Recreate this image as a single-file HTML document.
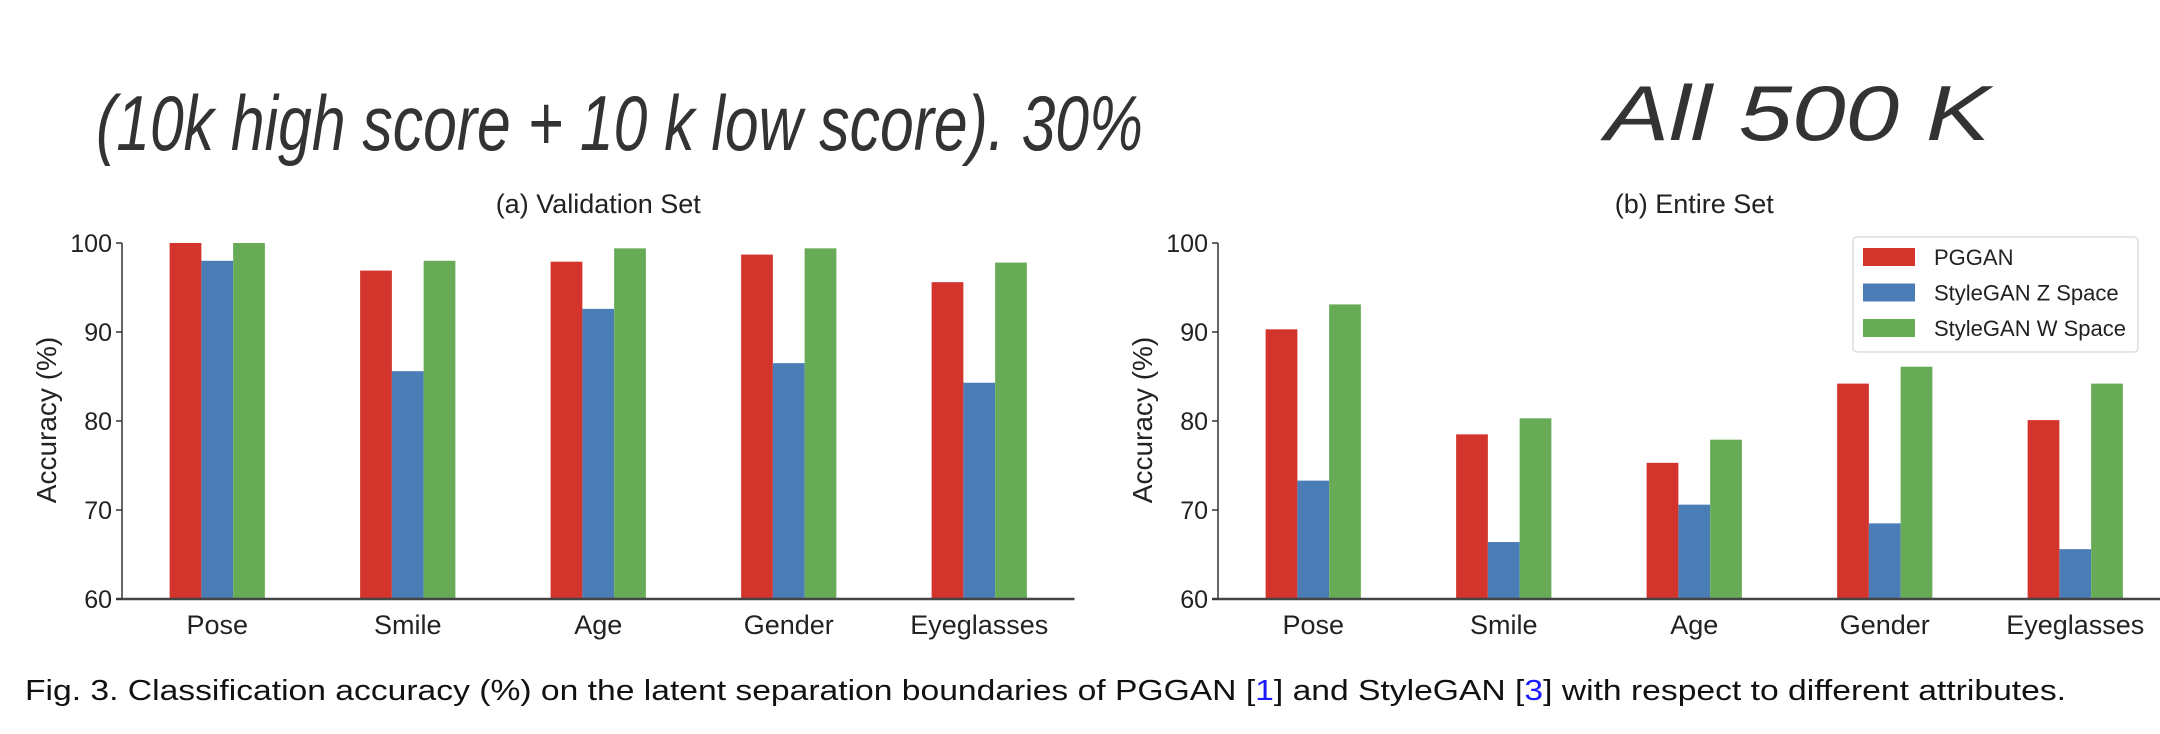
<!DOCTYPE html>
<html><head><meta charset="utf-8"><style>
html,body{margin:0;padding:0;background:#fff;}
svg{display:block;}
.nar{font-family:"Liberation Sans Narrow","Liberation Sans",sans-serif;fill:#222;}
.hand{font-family:"Liberation Sans Narrow","Liberation Sans",sans-serif;font-style:italic;fill:#333;}
</style></head><body>
<svg id="fig" width="2160" height="734" viewBox="0 0 2160 734">
  <text class="hand" x="96" y="150" font-size="78" textLength="1047" lengthAdjust="spacingAndGlyphs">(10k high score + 10 k low score). 30%</text>
  <text class="hand" x="1605" y="140" font-size="78" textLength="385" lengthAdjust="spacingAndGlyphs">All 500 K</text>
  <g id="chartA"></g>
  <g id="chartB"></g>
  <text x="25" y="700" font-family="Liberation Sans, sans-serif" font-size="29" fill="#111" textLength="2041" lengthAdjust="spacingAndGlyphs">Fig. 3.  Classification accuracy (%) on the latent separation boundaries of PGGAN [<tspan fill="#1a1aff">1</tspan>] and StyleGAN [<tspan fill="#1a1aff">3</tspan>] with respect to different attributes.</text>
</svg>
<script>
const categories = ["Pose","Smile","Age","Gender","Eyeglasses"];
const seriesNames = ["PGGAN","StyleGAN Z Space","StyleGAN W Space"];
const valA_pggan = [100, 96.9, 97.9, 98.7, 95.6];
const valA_z = [98, 85.6, 92.6, 86.5, 84.3];
const valA_w = [100, 98, 99.4, 99.4, 97.8];
const valB_pggan = [90.3, 78.5, 75.3, 84.2, 80.1];
const valB_z = [73.3, 66.4, 70.6, 68.5, 65.6];
const valB_w = [93.1, 80.3, 77.9, 86.1, 84.2];
const yTicks = [60, 70, 80, 90, 100];
const colors = ["#d3342c","#4a7db5","#67ab57"];
const NS = "http://www.w3.org/2000/svg";

function mk(parent, tag, attrs){
  const e = document.createElementNS(NS, tag);
  for (const k in attrs) e.setAttribute(k, attrs[k]);
  parent.appendChild(e); return e;
}

function drawChart(g, left, title, series, prefix, legend){
  const yTop = 243, yBot = 599, yMin = 60, yMax = 100, step = 190.5;
  const y = v => yBot - (v - yMin) / (yMax - yMin) * (yBot - yTop);
  const x = i => left + step * (i + 0.5);
  const bw = step / 6;
  const t = mk(g, "text", {x: left + step*2.5, y: 213, "text-anchor": "middle", "font-size": 27, class: "nar"});
  
  
  t.textContent = title;
  series.forEach((vals, s) => {
    vals.forEach((v, i) => {
      const r = mk(g, "rect", {x: x(i) + (s - 1.5) * bw, y: y(v), width: bw, height: yBot - y(v), fill: colors[s]});
      
      
    });
  });
  const ya = mk(g, "line", {x1: left, x2: left, y1: yTop, y2: yBot, stroke: "#333", "stroke-width": 1.5});
  
  
  const xa = mk(g, "line", {x1: left - 6, x2: left + step * 5, y1: yBot, y2: yBot, stroke: "#444", "stroke-width": 2.5});
  
  
  yTicks.forEach(v => {
    mk(g, "line", {x1: left - 6, x2: left, y1: y(v), y2: y(v), stroke: "#333", "stroke-width": 1.5});
    const tl = mk(g, "text", {x: left - 10, y: y(v) + 9, "text-anchor": "end", "font-size": 25, class: "nar"});
    
    
    tl.textContent = v;
  });
  categories.forEach((c, i) => {
    const tl = mk(g, "text", {x: x(i), y: 634, "text-anchor": "middle", "font-size": 27, class: "nar"});
    
    
    tl.textContent = c;
  });
  const yt = mk(g, "text", {x: 0, y: 0, "text-anchor": "middle", "font-size": 28, fill: "#222", "font-family": "Liberation Sans, sans-serif", transform: `translate(${left - 66},420) rotate(-90)`});
  
  
  yt.textContent = "Accuracy (%)";
  if (legend){
    const lg = mk(g, "g", {});
    
    
    mk(lg, "rect", {x: 1853, y: 237, width: 285, height: 115, rx: 4, fill: "#fff", stroke: "#ddd", "stroke-width": 1.5});
    seriesNames.forEach((n, s) => {
      const cy = 257 + s * 35.5;
      const e = mk(lg, "g", {});
      
      
      mk(e, "rect", {x: 1863, y: cy - 9, width: 52, height: 18, fill: colors[s]});
      const tx = mk(e, "text", {x: 1934, y: cy + 8, "font-size": 22, class: "nar"});
      tx.textContent = n;
    });
  }
}
drawChart(document.getElementById("chartA"), 122, "(a) Validation Set", [valA_pggan, valA_z, valA_w], "validation", false);
drawChart(document.getElementById("chartB"), 1218, "(b) Entire Set", [valB_pggan, valB_z, valB_w], "entire", true);
</script>
</body></html>
